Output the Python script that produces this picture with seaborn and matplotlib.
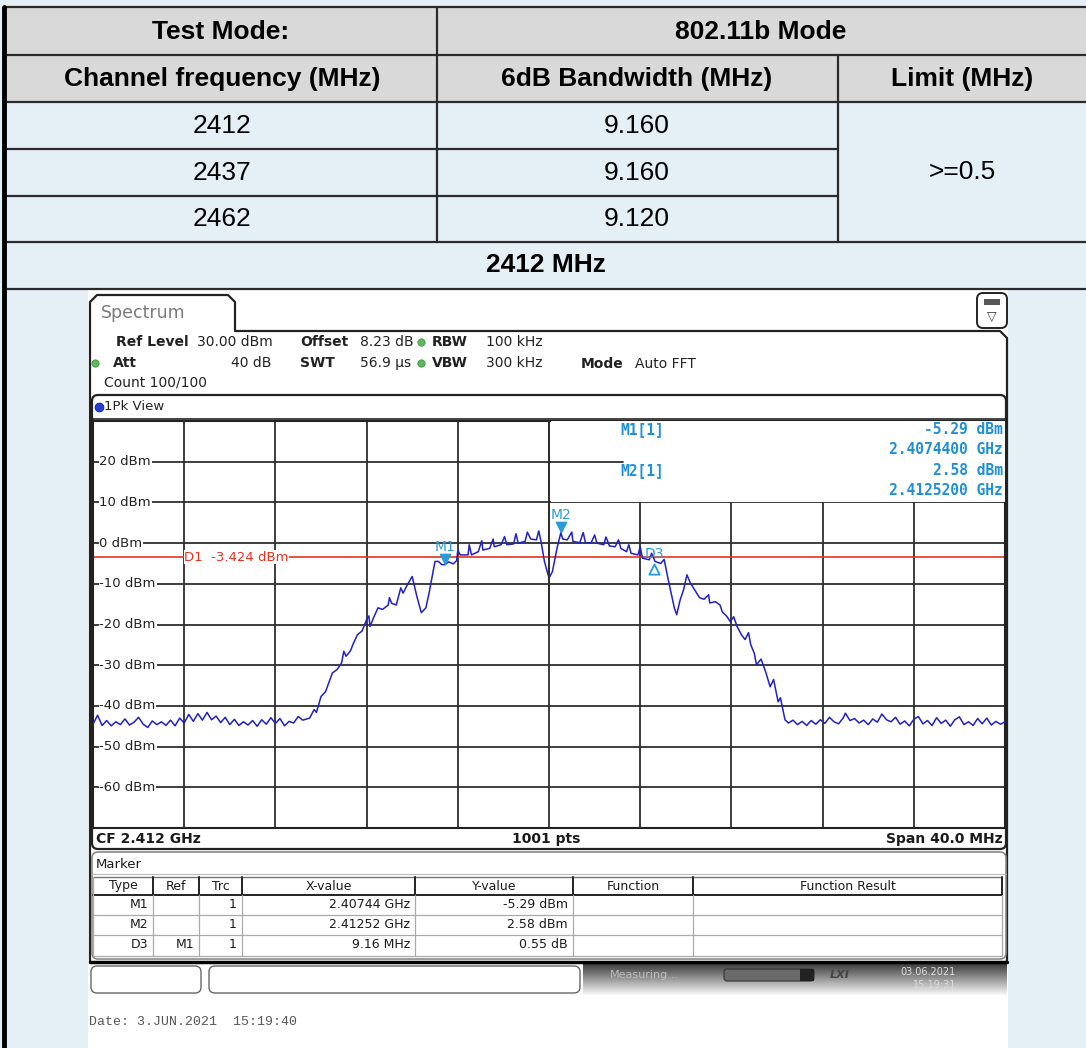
import numpy as np
import matplotlib
matplotlib.use("Agg")
import matplotlib.pyplot as plt
import seaborn as sns
from matplotlib.patches import Rectangle, FancyBboxPatch

# ---- table data ----
table_mode = "802.11b Mode"
channels = ["2412", "2437", "2462"]
bandwidths = ["9.160", "9.160", "9.120"]
limit_text = ">=0.5"
plot_title = "2412 MHz"

# ---- analyser trace (MHz, dBm) ----
trace_mhz = [
    2392.0, 2392.2, 2392.4, 2392.6, 2392.8, 2393.0, 2393.2, 2393.4, 2393.6, 2393.8,
    2394.0, 2394.2, 2394.4, 2394.6, 2394.8, 2395.0, 2395.2, 2395.4, 2395.6, 2395.8,
    2396.0, 2396.2, 2396.4, 2396.6, 2396.8, 2397.0, 2397.2, 2397.4, 2397.6, 2397.8,
    2398.0, 2398.2, 2398.4, 2398.6, 2398.8, 2399.0, 2399.2, 2399.4, 2399.6, 2399.8,
    2400.0, 2400.2, 2400.4, 2400.6, 2400.8, 2401.0, 2401.2,
    2401.5, 2401.7, 2401.8, 2402.0, 2402.2, 2402.5, 2402.7, 2402.9, 2403.0, 2403.1,
    2403.3, 2403.4, 2403.6, 2403.8, 2404.0, 2404.1, 2404.15, 2404.3, 2404.5, 2404.7,
    2404.95, 2405.0, 2405.1, 2405.3, 2405.5, 2405.6, 2405.8, 2406.0, 2406.05, 2406.2,
    2406.4, 2406.5, 2406.6, 2406.75, 2406.85, 2407.0, 2407.15, 2407.3, 2407.44, 2407.6,
    2407.8, 2407.95, 2408.0, 2408.1, 2408.45, 2408.5, 2408.6, 2408.9, 2409.05, 2409.1,
    2409.4, 2409.55, 2409.6, 2409.9, 2410.05, 2410.15, 2410.45, 2410.55, 2410.65, 2410.95,
    2411.05, 2411.2, 2411.45, 2411.55, 2411.65, 2411.8, 2412.0, 2412.15, 2412.35, 2412.52,
    2412.6, 2412.8, 2413.0, 2413.05, 2413.35, 2413.5, 2413.6, 2413.85, 2414.0, 2414.1,
    2414.4, 2414.5, 2414.65, 2414.9, 2415.05, 2415.15, 2415.4, 2415.5, 2415.6, 2415.9,
    2416.0, 2416.1, 2416.4, 2416.5, 2416.65, 2416.9, 2417.05, 2417.2, 2417.5, 2417.6,
    2417.75, 2417.9, 2418.05, 2418.2, 2418.4, 2418.6, 2418.8, 2419.0, 2419.05, 2419.3,
    2419.5, 2419.6, 2419.8, 2419.95, 2420.1, 2420.25, 2420.45, 2420.6, 2420.75, 2420.85,
    2421.0, 2421.1, 2421.3, 2421.5, 2421.7, 2421.85, 2422.05, 2422.15, 2422.35,
    2422.5, 2422.7, 2422.9, 2423.1, 2423.3, 2423.5, 2423.7, 2423.9, 2424.1, 2424.3,
    2424.5, 2424.7, 2424.9, 2425.0, 2425.2, 2425.4, 2425.6, 2425.8, 2426.0, 2426.2,
    2426.4, 2426.6, 2426.8, 2427.0, 2427.2, 2427.4, 2427.6, 2427.8, 2428.0, 2428.2,
    2428.4, 2428.6, 2428.8, 2429.0, 2429.2, 2429.4, 2429.6, 2429.8, 2430.0, 2430.2,
    2430.4, 2430.6, 2430.8, 2431.0, 2431.2, 2431.4, 2431.6, 2431.8, 2432.0,
]
trace_dbm = [
    -44.5, -42.3, -44.8, -43.6, -44.9, -43.9, -44.6, -43.2, -44.7, -44.0,
    -42.8, -44.5, -45.3, -43.7, -44.6, -43.9, -44.8, -43.5, -44.9, -43.0,
    -44.2, -42.1, -43.8, -41.9, -43.5, -41.6, -43.4, -42.5, -44.1, -42.8,
    -44.6, -43.3, -44.8, -43.9, -44.7, -43.6, -45.0, -43.4, -44.5, -42.9,
    -44.3, -43.1, -44.9, -43.8, -44.2, -42.6, -43.5,
    -43.0, -40.9, -41.6, -37.7, -36.5, -31.9, -31.1, -29.5, -26.6, -27.8,
    -26.4, -24.9, -22.5, -21.6, -18.8, -17.9, -20.5, -18.4, -15.9, -16.3,
    -15.2, -13.4, -14.8, -15.2, -11.0, -12.3, -10.1, -8.2, -9.4, -13.0,
    -17.1, -16.5, -15.9, -12.0, -9.0, -4.5, -4.5, -5.3, -5.29, -4.6,
    -5.1, -4.3, -1.7, -2.9, -2.9, -0.4, -2.9, -2.1, 0.6, -1.7,
    -1.3, 1.0, -0.9, -0.4, 1.6, -0.4, -0.2, 2.3, 0.0, 0.4,
    2.7, 1.0, 0.8, 3.0, 0.4, -4.5, -8.6, -7.0, -1.3, 2.58,
    1.0, 0.8, 2.7, 0.4, 0.1, 2.6, 0.1, 0.1, 2.0, 0.0,
    -0.4, 1.5, -0.7, -0.9, 0.8, -1.3, -2.1, -0.4, -2.5, -2.9,
    -0.9, -3.7, -4.1, -2.5, -4.5, -5.0, -4.0, -8.2, -16.0, -17.6,
    -14.0, -11.5, -7.8, -9.8, -11.6, -13.4, -13.8, -12.7, -14.7, -14.4,
    -15.2, -16.9, -18.0, -19.3, -18.1, -20.5, -22.6, -23.7, -22.0, -25.0,
    -27.0, -29.9, -28.5, -31.6, -35.3, -33.5, -39.0, -38.0, -43.4,
    -44.2, -43.5, -44.6, -43.8, -44.8, -43.6, -44.5, -43.4, -44.3, -42.8,
    -43.9, -44.4, -43.0, -41.8, -43.6, -43.1, -44.2, -43.5, -44.6, -43.2,
    -44.0, -42.0, -43.4, -43.9, -42.8, -44.5, -43.7, -44.9, -43.3, -42.6,
    -44.4, -43.6, -44.8, -42.9, -44.3, -43.5, -45.0, -43.4, -42.7, -44.6,
    -43.9, -44.8, -43.1, -44.4, -43.0, -44.7, -43.8, -44.5, -43.9,
]

# markers
marker_names = ["M1", "M2", "D3"]
marker_mhz = [2407.44, 2412.52, 2416.60]
marker_dbm = [-5.29, 2.58, -4.74]
display_line_dbm = -3.424
level_ticks = [20, 10, 0, -10, -20, -30, -40, -50, -60]

# marker table
marker_cols = ["Type", "Ref", "Trc", "X-value", "Y-value", "Function", "Function Result"]
marker_types = ["M1", "M2", "D3"]
marker_refs = ["", "", "M1"]
marker_trcs = ["1", "1", "1"]
marker_xvals = ["2.40744 GHz", "2.41252 GHz", "9.16 MHz"]
marker_yvals = ["-5.29 dBm", "2.58 dBm", "0.55 dB"]

sns.set_style("white")
plt.rcParams["font.family"] = ["DejaVu Sans"]

W, H = 1086, 1048
fig = plt.figure(figsize=(W / 100, H / 100), dpi=100)

# background axes in pixel coordinates
bg = fig.add_axes([0, 0, 1, 1])
bg.set_xlim(0, W)
bg.set_ylim(H, 0)
bg.axis("off")

TEX = "#e4eff6"
bg.add_patch(Rectangle((0, 0), W, H, fc=TEX, ec="none", zorder=0))
bg.add_patch(Rectangle((5, 7), W, 95, fc="#d9d9d9", ec="none", zorder=0.5))
bg.add_patch(Rectangle((88, 290), 920, H - 290, fc="white", ec="none", zorder=0.5))

# table grid
LC = "#2b2b2b"
for yy in [7, 55, 102, 242, 289]:
    bg.plot([5, W], [yy, yy], color=LC, lw=1.6, zorder=1)
for yy in [149, 196]:
    bg.plot([5, 838], [yy, yy], color=LC, lw=1.6, zorder=1)
bg.plot([437, 437], [7, 242], color=LC, lw=1.6, zorder=1)
bg.plot([838, 838], [55, 242], color=LC, lw=1.6, zorder=1)
bg.plot([4, 4], [7, H], color="black", lw=3.5, zorder=1)

tf = dict(family="Liberation Sans", fontsize=19, ha="center", va="center",
          color="black", zorder=2)
bg.text(221, 32, "Test Mode:", weight="bold", **tf)
bg.text(761, 32, table_mode, weight="bold", **tf)
bg.text(222, 79, "Channel frequency (MHz)", weight="bold", **tf)
bg.text(637, 79, "6dB Bandwidth (MHz)", weight="bold", **tf)
bg.text(962, 79, "Limit (MHz)", weight="bold", **tf)
for i, (ch, bw) in enumerate(zip(channels, bandwidths)):
    yy = 126 + i * 46.5
    bg.text(222, yy, ch, **tf)
    bg.text(637, yy, bw, **tf)
bg.text(962, 172, limit_text, **tf)
bg.text(546, 265, plot_title, weight="bold", **tf)

# ---- analyser screen chrome ----
DK = "#222222"
bg.plot([90, 90, 97, 228, 235, 235, 1000, 1007, 1007],
        [962, 302, 295, 295, 302, 331, 331, 338, 962], color=DK, lw=1.6, zorder=2)
bg.text(101, 313, "Spectrum", fontsize=12.5, color="#7a7a7a", va="center", zorder=3)
bg.add_patch(FancyBboxPatch((977, 293), 30, 35, boxstyle="round,pad=0,rounding_size=6",
                            fc="white", ec=DK, lw=1.4, zorder=3))
bg.add_patch(Rectangle((984, 299), 16, 6, fc="#555555", ec="none", zorder=4))
bg.text(992, 316, "▽", fontsize=9, ha="center", va="center", color="#333333", zorder=4)

inf = dict(fontsize=10, va="center", zorder=3, color="#222222")
bg.text(116, 342, "Ref Level", weight="bold", **inf)
bg.text(197, 342, "30.00 dBm", **inf)
bg.text(300, 342, "Offset", weight="bold", **inf)
bg.text(360, 342, "8.23 dB", **inf)
bg.text(432, 342, "RBW", weight="bold", **inf)
bg.text(486, 342, "100 kHz", **inf)
bg.text(113, 363, "Att", weight="bold", **inf)
bg.text(271, 363, "40 dB", ha="right", **inf)
bg.text(300, 363, "SWT", weight="bold", **inf)
bg.text(360, 363, "56.9 µs", **inf)
bg.text(432, 363, "VBW", weight="bold", **inf)
bg.text(486, 363, "300 kHz", **inf)
bg.text(581, 364, "Mode", weight="bold", **inf)
bg.text(635, 364, "Auto FFT", **inf)
bg.text(104, 382, "Count 100/100", **inf)
for gx, gy in [(421, 342), (95, 363), (421, 363)]:
    bg.scatter([gx], [gy], s=28, color="#5cb85c", edgecolors="#3a8a3a", linewidths=0.5, zorder=4)

# plot frame + view header
bg.add_patch(FancyBboxPatch((92, 395), 914, 454, boxstyle="round,pad=0,rounding_size=6",
                            fc="white", ec=DK, lw=1.6, zorder=2))
bg.scatter([99], [407], s=40, color="#1f3fd8", edgecolors="#0b1f80", linewidths=0.6, zorder=4)
bg.text(104, 407, "1Pk View", fontsize=9.5, va="center", color="#222222", zorder=4)
bg.plot([92, 1006], [419, 419], color=DK, lw=1.2, zorder=3)

ff = dict(fontsize=10, weight="bold", va="center", color="#1a1a1a", zorder=4)
bg.text(96, 839, "CF 2.412 GHz", **ff)
bg.text(546, 839, "1001 pts", ha="center", **ff)
bg.text(1003, 839, "Span 40.0 MHz", ha="right", **ff)

# marker table box
bg.add_patch(FancyBboxPatch((92, 852), 914, 107, boxstyle="round,pad=0,rounding_size=6",
                            fc="white", ec="#8a8a8a", lw=1.2, zorder=2))
bg.text(96, 864, "Marker", fontsize=9.5, va="center", color="#1a1a1a", zorder=4)
bg.plot([92, 1006], [874, 874], color="#bbbbbb", lw=0.8, zorder=3)
col_edges = [93, 153, 199, 242, 415, 573, 693, 1002]
bg.plot([93, 1002], [877, 877], color="#777777", lw=1.0, zorder=3)
bg.plot([93, 1002], [895, 895], color=DK, lw=1.4, zorder=3)
for yy in [915, 935, 956]:
    bg.plot([93, 1002], [yy, yy], color="#aaaaaa", lw=0.9, zorder=3)
for xe in col_edges[1:]:
    bg.plot([xe, xe], [877, 895], color=DK, lw=1.4, zorder=3)
    bg.plot([xe, xe], [895, 956], color="#aaaaaa", lw=0.9, zorder=3)
bg.plot([93, 93], [877, 956], color="#aaaaaa", lw=0.9, zorder=3)
mt = dict(fontsize=9, va="center", color="#1a1a1a", zorder=4)
for i, name in enumerate(marker_cols):
    bg.text((col_edges[i] + col_edges[i + 1]) / 2, 886, name, ha="center", **mt)
for r in range(len(marker_types)):
    yy = 905 + r * 20
    row = [marker_types[r], marker_refs[r], marker_trcs[r], marker_xvals[r], marker_yvals[r]]
    for c, val in enumerate(row):
        bg.text(col_edges[c + 1] - 5, yy, val, ha="right", **mt)

# bottom line + status bar
bg.plot([90, 1007], [962, 962], color="black", lw=2.5, zorder=3)
bg.add_patch(FancyBboxPatch((91, 966), 110, 27, boxstyle="round,pad=0,rounding_size=6",
                            fc="white", ec="#666666", lw=1.0, zorder=3))
bg.add_patch(FancyBboxPatch((209, 966), 371, 27, boxstyle="round,pad=0,rounding_size=6",
                            fc="white", ec="#666666", lw=1.0, zorder=3))
grad = np.linspace(0.25, 0.97, 40).reshape(-1, 1)
bg.imshow(grad, cmap="gray", vmin=0, vmax=1, extent=(583, 1007, 995, 964),
          aspect="auto", zorder=2.5)
bg.text(610, 975, "Measuring...", fontsize=8, color="#bbbbbb", va="center", zorder=4)
bg.add_patch(FancyBboxPatch((724, 969), 90, 12, boxstyle="round,pad=0,rounding_size=3",
                            fc="#6a6a6a", ec="#333333", lw=0.8, zorder=4))
bg.add_patch(Rectangle((800, 969), 14, 12, fc="#222222", ec="none", zorder=4.5))
bg.text(840, 975, "LXI", fontsize=8, weight="bold", style="italic", color="#444444",
        ha="center", va="center", zorder=4)
bg.text(928, 972, "03.06.2021", fontsize=7, color="#dddddd", ha="center", va="center", zorder=4)
bg.text(935, 985, "15:19:31", fontsize=7, color="#dddddd", ha="center", va="center", zorder=4)
bg.text(89, 1022, "Date: 3.JUN.2021  15:19:40", family="Liberation Mono", fontsize=9.5,
        color="#555555", va="center", zorder=4)

# ---- spectrum axes ----
x0, x1 = 2392.0, 2432.0
y0, y1 = -70.0, 30.0
ax = fig.add_axes([93 / W, 1 - 828 / H, 912 / W, 407 / H])
ax.set_xlim(x0, x1)
ax.set_ylim(y0, y1)
ax.set_xticks([])
ax.set_yticks([])
for s in ax.spines.values():
    s.set_color(DK)
    s.set_linewidth(1.5)

for k in range(1, 10):
    ax.axvline(x0 + k * (x1 - x0) / 10, color="#2e2e2e", lw=1.3, zorder=1)
for lv in level_ticks:
    ax.axhline(lv, color="#2e2e2e", lw=1.3, zorder=1)

# display line D1
ax.axhline(display_line_dbm, color="#e8321e", lw=1.2, zorder=2)
ax.text(2396.0, display_line_dbm, f"D1  {display_line_dbm:.3f} dBm", color="#e8321e",
        fontsize=9.5, va="center", zorder=2.5,
        bbox=dict(fc="white", ec="none", pad=0.5))

# level labels
lab_tr = ax.get_yaxis_transform()
for lv in level_ticks:
    ax.text(0.007, lv, f"{lv} dBm", transform=lab_tr, fontsize=9.5, color="#222222",
            va="center", ha="left", zorder=2.5, bbox=dict(fc="white", ec="none", pad=0.6))

sns.lineplot(x=trace_mhz, y=trace_dbm, ax=ax, color="#2020c8", linewidth=1.1, zorder=3)

# marker symbols
MC = "#2a9bd8"
for name, fm, lv in zip(marker_names, marker_mhz, marker_dbm):
    if name.startswith("D"):
        ax.scatter([fm], [lv - 1.7], marker="^", s=55, facecolors="white",
                   edgecolors=MC, linewidths=1.3, zorder=5)
        ax.text(fm, lv + 2.0, name, color=MC, fontsize=10, ha="center", va="center", zorder=5)
    else:
        ax.scatter([fm], [lv + 1.3], marker="v", s=55, color=MC, zorder=5)
        ax.text(fm, lv + 4.4, name, color=MC, fontsize=10, ha="center", va="center", zorder=5)

# marker info box (top right)
ax.add_patch(Rectangle((2412.1, 10.1), x1 - 2412.1, 19.8, fc="white", ec="none", zorder=4))
ax.plot([2412.0, 2415.25], [20, 20], color="#2e2e2e", lw=1.3, zorder=4.5)
ax.axvline(2412.0, ymin=0.5, color="#2e2e2e", lw=1.3, zorder=4.5)
IC = "#1f8fd6"
mi = dict(family="DejaVu Sans Mono", weight="bold", fontsize=10.5, color=IC,
          va="center", zorder=5)
ax.text(2415.15, 27.8, "M1[1]", **mi)
ax.text(2431.9, 27.8, f"{marker_dbm[0]:.2f} dBm", ha="right", **mi)
ax.text(2431.9, 22.9, "2.4074400 GHz", ha="right", **mi)
ax.text(2415.15, 17.8, "M2[1]", **mi)
ax.text(2431.9, 17.8, f"{marker_dbm[1]:.2f} dBm", ha="right", **mi)
ax.text(2431.9, 12.9, "2.4125200 GHz", ha="right", **mi)

fig.savefig("out.png", dpi=100)
